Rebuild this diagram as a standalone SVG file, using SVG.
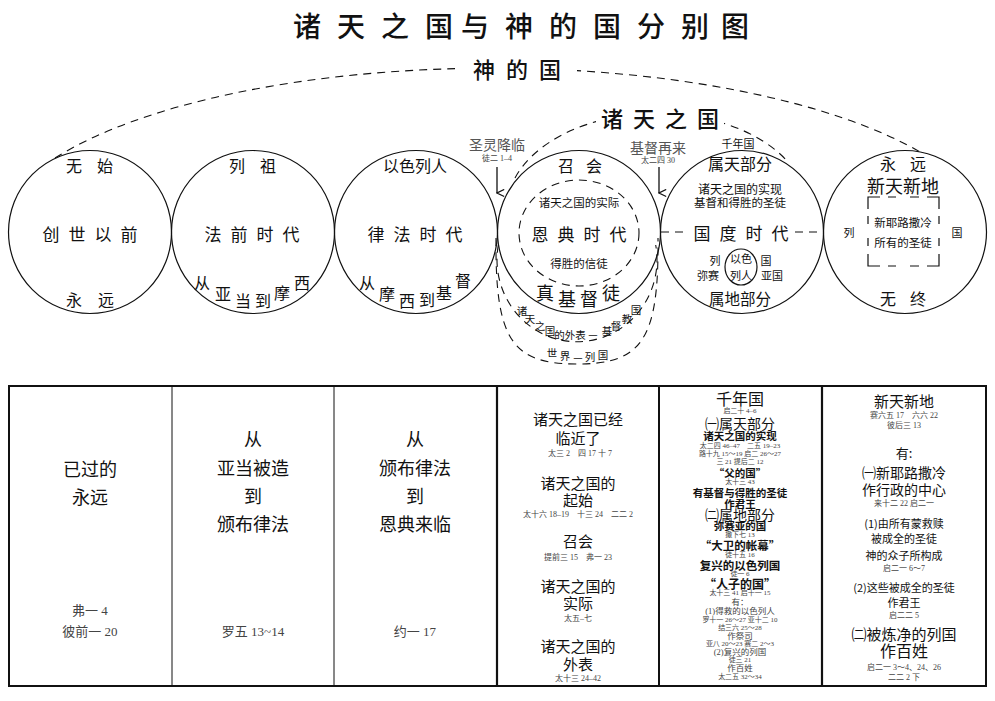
<svg xmlns="http://www.w3.org/2000/svg" width="995" height="701" viewBox="0 0 995 701">
<style>
text{font-family:"Noto Sans CJK SC","Noto Sans",sans-serif;fill:#111;text-anchor:middle;dominant-baseline:central}
.ref{font-family:"Liberation Serif","Noto Sans CJK SC",serif;fill:#444}
.gray{fill:#555}
.b{font-weight:bold}
.c{fill:none;stroke:#111;stroke-width:1.2}
.d{fill:none;stroke:#111;stroke-width:1.1;stroke-dasharray:8 6}
.t{fill:none;stroke:#111}
</style>
<defs>
<marker id="arr" viewBox="0 0 10 10" refX="5" refY="9" markerWidth="9" markerHeight="9" orient="auto-start-reverse" markerUnits="userSpaceOnUse">
<path d="M1 1 L5 9 L9 1" fill="none" stroke="#111" stroke-width="1.3"/>
</marker>
</defs>
<rect width="995" height="701" fill="#fff"/>
<g id="title">
<text y="25" font-size="28" font-weight="500"><tspan x="307 351 395 439 475 519 563 607 651 695 735">诸天之国与神的国分别图</tspan></text>
</g>

<g id="connectors">
<path class="d" d="M55 158 A500 174 0 0 1 922 153"/>
<path class="d" d="M515 178 A150 95 0 0 1 788 162"/>
<path class="d" d="M498.3 245 A80 82 0 1 0 655.7 245"/>
<path class="d" d="M496 238 C495 340 512 364 577 364 C642 364 659 340 658 238"/>
<line class="d" x1="661" y1="232" x2="688" y2="232" stroke-dasharray="4 3"/>
<line class="d" x1="795" y1="232" x2="822" y2="232" stroke-dasharray="4 3"/>
<line class="t" x1="497" y1="167" x2="497" y2="193" stroke-width="1.3" marker-end="url(#arr)"/>
<line class="t" x1="659" y1="167" x2="659" y2="193" stroke-width="1.3" marker-end="url(#arr)"/>
</g>

<g id="label-shendeguo">
<rect x="455" y="52" width="122" height="32" fill="#fff"/>
<text y="68" font-size="22" font-weight="500"><tspan x="484">神</tspan><tspan x="517">的</tspan><tspan x="550">国</tspan></text>
</g>
<g id="label-zhutian">
<rect x="596" y="102" width="128" height="30" fill="#fff"/>
<text y="117" font-size="22" font-weight="500"><tspan x="612">诸</tspan><tspan x="644">天</tspan><tspan x="676">之</tspan><tspan x="708">国</tspan></text>
</g>
<g id="label-shengling">
<text x="497" y="144" font-size="14" class="gray">圣灵降临</text>
<text x="497" y="158" font-size="8" class="ref">徒二 1–4</text>
</g>
<g id="label-zaili">
<text x="658" y="147" font-size="14" class="gray">基督再来</text>
<text x="658" y="160" font-size="8" class="ref">太二四 30</text>
</g>

<g id="circle1">
<circle class="c" cx="90" cy="232" r="81.5"/>
<text y="165" font-size="16"><tspan x="74">无</tspan><tspan x="105">始</tspan></text>
<text y="233" font-size="17"><tspan x="51">创</tspan><tspan x="77">世</tspan><tspan x="103">以</tspan><tspan x="129">前</tspan></text>
<text y="299" font-size="16"><tspan x="74">永</tspan><tspan x="106">远</tspan></text>
</g>
<g id="circle2">
<circle class="c" cx="253" cy="232" r="81.5"/>
<text y="165" font-size="16"><tspan x="237">列</tspan><tspan x="268">祖</tspan></text>
<text y="233" font-size="17"><tspan x="213">法</tspan><tspan x="239">前</tspan><tspan x="265">时</tspan><tspan x="291">代</tspan></text>
<text font-size="16"><tspan x="202" y="282">从</tspan><tspan x="223" y="293">亚</tspan><tspan x="243" y="300">当</tspan><tspan x="263" y="300">到</tspan><tspan x="282" y="292">摩</tspan><tspan x="302" y="282">西</tspan></text>
</g>
<g id="circle3">
<circle class="c" cx="416" cy="232" r="81.5"/>
<text x="415" y="165" font-size="16">以色列人</text>
<text y="233" font-size="17"><tspan x="376">律</tspan><tspan x="402">法</tspan><tspan x="428">时</tspan><tspan x="454">代</tspan></text>
<text font-size="16"><tspan x="367" y="282">从</tspan><tspan x="387" y="293">摩</tspan><tspan x="407" y="300">西</tspan><tspan x="427" y="299">到</tspan><tspan x="444" y="292">基</tspan><tspan x="463" y="280">督</tspan></text>
</g>
<g id="circle4">
<circle class="c" cx="579" cy="232" r="81.5"/>
<ellipse class="d" cx="579" cy="233" rx="60" ry="53" stroke-dasharray="7 6"/>
<text y="165" font-size="16"><tspan x="566">召</tspan><tspan x="594">会</tspan></text>
<text x="579" y="202" font-size="11.5">诸天之国的实际</text>
<text y="233" font-size="17"><tspan x="540">恩</tspan><tspan x="566">典</tspan><tspan x="592">时</tspan><tspan x="618">代</tspan></text>
<text x="579" y="263" font-size="11.5">得胜的信徒</text>
<text font-size="18"><tspan x="545" y="292">真</tspan><tspan x="567" y="298">基</tspan><tspan x="589" y="298">督</tspan><tspan x="611" y="292">徒</tspan></text>
<text font-size="10.5"><tspan x="522" y="310">诸</tspan><tspan x="530" y="318">天</tspan><tspan x="540" y="325">之</tspan><tspan x="550" y="330">国</tspan><tspan x="570" y="334">的外表</tspan><tspan x="593" y="333">—</tspan><tspan x="607" y="330">基</tspan><tspan x="616" y="325">督</tspan><tspan x="627" y="318">教</tspan><tspan x="636" y="309">国</tspan></text>
<text font-size="10.5"><tspan x="552" y="352">世</tspan><tspan x="565" y="355">界</tspan><tspan x="578" y="356">—</tspan><tspan x="590" y="356">列</tspan><tspan x="603" y="354">国</tspan></text>
</g>
<g id="circle5">
<circle class="c" cx="742" cy="232" r="81.5"/>
<text x="738" y="143" font-size="11">千年国</text>
<text x="740" y="163" font-size="16">属天部分</text>
<text x="740" y="188" font-size="12">诸天之国的实现</text>
<text x="740" y="202" font-size="11.5">基督和得胜的圣徒</text>
<text y="232" font-size="17"><tspan x="702">国</tspan><tspan x="728">度</tspan><tspan x="754">时</tspan><tspan x="780">代</tspan></text>
<ellipse class="c" cx="741" cy="267" rx="16" ry="18"/>
<text x="741" y="258" font-size="11">以色</text>
<text x="741" y="275" font-size="11">列人</text>
<text x="715" y="260" font-size="11">列</text>
<text x="708" y="275" font-size="11">弥赛</text>
<text x="766" y="260" font-size="11">国</text>
<text x="772" y="275" font-size="11">亚国</text>
<text x="740" y="298" font-size="15.5">属地部分</text>
</g>
<g id="circle6">
<circle class="c" cx="905" cy="232" r="81.5"/>
<text y="163" font-size="16"><tspan x="888">永</tspan><tspan x="918">远</tspan></text>
<text x="903" y="185" font-size="18">新天新地</text>
<path class="t" stroke-width="1.2" d="M868 209V197H880M927 197H939V209M868 254V266H880M927 266H939V254M888 197H896M910 197H919M888 266H896M910 266H919M868 216V224M868 238V246M939 216V224M939 238V246"/>
<text x="903" y="222" font-size="11.5">新耶路撒冷</text>
<text x="903" y="242" font-size="11.5">所有的圣徒</text>
<text x="849" y="232" font-size="11">列</text>
<text x="957" y="232" font-size="11">国</text>
<text y="298" font-size="16"><tspan x="888">无</tspan><tspan x="918">终</tspan></text>
</g>

<g id="table">
<rect x="9" y="386" width="977" height="300" fill="none" stroke="#111" stroke-width="2"/>
<line x1="172" y1="386" x2="172" y2="686" stroke="#111" stroke-width="1"/>
<line x1="334" y1="386" x2="334" y2="686" stroke="#111" stroke-width="1"/>
<line x1="497" y1="386" x2="497" y2="686" stroke="#111" stroke-width="2.2"/>
<line x1="659" y1="386" x2="659" y2="686" stroke="#111" stroke-width="2"/>
<line x1="822" y1="386" x2="822" y2="686" stroke="#111" stroke-width="2.2"/>
</g>
<g id="col1">
<text x="90" y="468" font-size="18">已过的</text>
<text x="90" y="496" font-size="18">永远</text>
<text x="90" y="610" font-size="13" class="ref">弗一 4</text>
<text x="90" y="631" font-size="13" class="ref">彼前一 20</text>
</g>
<g id="col2">
<text x="253" y="438" font-size="18">从</text>
<text x="253" y="467" font-size="18">亚当被造</text>
<text x="253" y="495" font-size="18">到</text>
<text x="253" y="523" font-size="18">颁布律法</text>
<text x="253" y="631" font-size="13" class="ref">罗五 13~14</text>
</g>
<g id="col3">
<text x="415" y="438" font-size="18">从</text>
<text x="415" y="467" font-size="18">颁布律法</text>
<text x="415" y="495" font-size="18">到</text>
<text x="415" y="523" font-size="18">恩典来临</text>
<text x="415" y="631" font-size="13" class="ref">约一 17</text>
</g>
<g id="col4">
<text x="578" y="418" font-size="15">诸天之国已经</text>
<text x="578" y="437" font-size="15">临近了</text>
<text x="580" y="453" font-size="8" class="ref">太三 2　四 17 十 7</text>
<text x="578" y="482" font-size="15">诸天之国的</text>
<text x="578" y="499" font-size="15">起始</text>
<text x="578" y="514" font-size="8" class="ref">太十六 18–19　十三 24　二二 2</text>
<text x="578" y="540" font-size="15">召会</text>
<text x="578" y="557" font-size="8" class="ref">提前三 15　弗一 23</text>
<text x="578" y="585" font-size="15">诸天之国的</text>
<text x="578" y="602" font-size="15">实际</text>
<text x="578" y="618" font-size="8" class="ref">太五–七</text>
<text x="578" y="645" font-size="15">诸天之国的</text>
<text x="578" y="663" font-size="15">外表</text>
<text x="578" y="678" font-size="8" class="ref">太十三 24–42</text>
</g>
<g id="col5">
<text x="740" y="398" font-size="16">千年国</text>
<text x="740" y="411" font-size="7" class="ref">启二十 4–6</text>
<text x="740" y="423" font-size="14">㈠属天部分</text>
<text x="740" y="435" font-size="10.5" class="b">诸天之国的实现</text>
<text x="740" y="446" font-size="7" class="ref">太二四 46–47　二五 19–23</text>
<text x="740" y="454" font-size="7" class="ref">路十九 15～19 启二 26～27</text>
<text x="740" y="462" font-size="7" class="ref">三 21 提后二 12</text>
<text x="740" y="472" font-size="10.5" class="b">“父的国”</text>
<text x="740" y="482" font-size="7" class="ref">太十三 43</text>
<text x="740" y="492" font-size="10.5" class="b">有基督与得胜的圣徒</text>
<text x="740" y="503" font-size="10.5" class="b">作君王</text>
<text x="740" y="514" font-size="14">㈡属地部分</text>
<text x="740" y="525" font-size="10.5" class="b">弥赛亚的国</text>
<text x="740" y="535" font-size="7" class="ref">撒下七 13</text>
<text x="740" y="545" font-size="11.5" class="b">“大卫的帐幕”</text>
<text x="740" y="555" font-size="7" class="ref">徒十五 16</text>
<text x="740" y="565" font-size="11.5" class="b">复兴的以色列国</text>
<text x="740" y="574" font-size="7" class="ref">徒一 6</text>
<text x="740" y="583" font-size="12" class="b">“人子的国”</text>
<text x="740" y="593" font-size="7" class="ref">太十三 41 启十一 15</text>
<text x="740" y="602" font-size="8.5" class="ref">有：</text>
<text x="740" y="611" font-size="8.5" class="ref">(1)得救的以色列人</text>
<text x="740" y="620" font-size="7" class="ref">罗十一 26～27 亚十二 10</text>
<text x="740" y="628" font-size="7" class="ref">结三六 25～28</text>
<text x="740" y="636" font-size="8.5" class="ref">作祭司</text>
<text x="740" y="644" font-size="7" class="ref">亚八 20～23 赛二 2～3</text>
<text x="740" y="652" font-size="8.5" class="ref">(2)复兴的列国</text>
<text x="740" y="660" font-size="7" class="ref">徒三 21</text>
<text x="740" y="668" font-size="8.5" class="ref">作百姓</text>
<text x="740" y="677" font-size="7" class="ref">太二五 32～34</text>
</g>
<g id="col6">
<text x="904" y="400" font-size="15">新天新地</text>
<text x="904" y="415" font-size="8" class="ref">赛六五 17　六六 22</text>
<text x="904" y="425" font-size="8" class="ref">彼后三 13</text>
<text x="904" y="452" font-size="13">有:</text>
<text x="904" y="472" font-size="14">㈠新耶路撒冷</text>
<text x="904" y="489" font-size="14">作行政的中心</text>
<text x="904" y="503" font-size="8" class="ref">来十二 22 启二一</text>
<text x="904" y="523" font-size="11">(1)由所有蒙救赎</text>
<text x="904" y="538" font-size="11">被成全的圣徒</text>
<text x="904" y="555" font-size="11">神的众子所构成</text>
<text x="904" y="568" font-size="8" class="ref">启二一 6～7</text>
<text x="904" y="587" font-size="11">(2)这些被成全的圣徒</text>
<text x="904" y="602" font-size="11">作君王</text>
<text x="904" y="615" font-size="8" class="ref">启二二 5</text>
<text x="904" y="633" font-size="15">㈡被炼净的列国</text>
<text x="904" y="650" font-size="16">作百姓</text>
<text x="904" y="667" font-size="8" class="ref">启二一 3～4、24、26</text>
<text x="904" y="677" font-size="8" class="ref">二二 2 下</text>
</g>
</svg>
